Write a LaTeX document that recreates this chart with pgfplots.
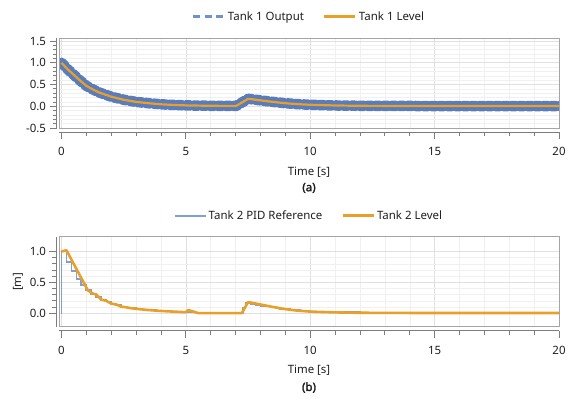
\documentclass[border=0pt]{standalone}
\usepackage{fontspec}
\setmainfont{Noto Sans}
\newfontfamily\capfont{Noto Sans}[FakeBold=2.2]
\usepackage{pgfplots}
\pgfplotsset{compat=1.18}
\definecolor{bandblue}{RGB}{91,124,186}
\definecolor{legblue}{RGB}{112,146,202}
\definecolor{refblue}{RGB}{128,160,212}
\definecolor{lvlorange}{RGB}{232,160,40}
\definecolor{framegray}{RGB}{165,165,165}
\definecolor{axisgray}{RGB}{125,125,125}
\definecolor{txt}{RGB}{30,30,30}
\pgfplotsset{
 myaxis/.style={
  scale only axis, width=500bp, height=90bp, anchor=south west,
  xmin=-0.1, xmax=20,
  axis x line=bottom, axis y line=left,
  axis line style={-, draw=axisgray, line width=0.8bp},
  axis x line shift=4bp, axis y line shift=2.5bp,
  xtick={0,5,...,20}, minor x tick num=4,
  tick align=outside, major tick length=7bp, minor tick length=4bp,
  every tick/.style={draw=axisgray, line width=0.8bp},
  grid=both,
  major grid style={draw=black!12, line width=0.6bp},
  minor grid style={draw=black!6, line width=0.5bp},
  font=\fontsize{11.5}{13}\selectfont\color{txt},
  /pgf/number format/assume math mode=true,
  yticklabel style={/pgf/number format/.cd, fixed, fixed zerofill, precision=1},
  xticklabel style={yshift=-5bp, /pgf/number format/.cd, fixed, precision=0},
  xlabel={Time [s]},
  xlabel style={yshift=-4bp},
  legend style={at={(0.5,1)}, anchor=center, yshift=21bp, draw=none, fill=none,
    font=\fontsize{11.5}{13}\selectfont\color{txt},
    /tikz/every even column/.append style={column sep=17bp}},
  legend columns=2,
  legend image code/.code={\draw[#1] (0bp,0bp) -- (31bp,0bp);},
 }
}
\begin{document}
\begin{tikzpicture}
\path[use as bounding box] (0,0) rectangle (569bp,399bp);
% ---------- (a) ----------
\begin{axis}[myaxis, at={(59bp,271bp)}, ymin=-0.5, ymax=1.57,
  ytick={-0.5,0,0.5,1,1.5}, minor y tick num=4]
\addplot[bandblue, line width=10.5bp, line cap=round, line join=round,
  dash pattern=on 5bp off 3bp, forget plot] table {
0 1.00
0.1 0.94
0.25 0.85
0.5 0.72
0.75 0.59
1.0 0.47
1.25 0.39
1.5 0.32
1.75 0.27
2.0 0.22
2.5 0.15
3.0 0.10
3.5 0.07
4.0 0.045
4.5 0.03
5.0 0.02
6.0 0.01
7.0 0.008
7.03 0.01
7.5 0.17
7.6 0.165
8.0 0.135
8.5 0.10
9.0 0.07
9.5 0.048
10.0 0.034
11 0.018
12 0.01
14 0.006
17 0.005
20.2 0.005
};
\addplot[lvlorange, line width=2.2bp, line join=round, forget plot] table {
0 1.00
0.1 0.94
0.25 0.85
0.5 0.72
0.75 0.59
1.0 0.47
1.25 0.39
1.5 0.32
1.75 0.27
2.0 0.22
2.5 0.15
3.0 0.10
3.5 0.07
4.0 0.045
4.5 0.03
5.0 0.02
6.0 0.01
7.0 0.008
7.03 0.01
7.5 0.17
7.6 0.165
8.0 0.135
8.5 0.10
9.0 0.07
9.5 0.048
10.0 0.034
11 0.018
12 0.01
14 0.006
17 0.005
20.2 0.005
};
\addlegendimage{legblue, line width=3bp, dash pattern=on 7bp off 4.5bp}
\addlegendentry{Tank 1 Output}
\addlegendimage{lvlorange, line width=3bp}
\addlegendentry{Tank 1 Level}
\end{axis}
\draw[framegray, line width=0.8bp] (59bp,271bp) rectangle (559bp,361bp);
\node[font=\capfont\fontsize{11.5}{13}\selectfont, text=txt] at (309bp,211bp) {(a)};
% ---------- (b) ----------
\begin{axis}[myaxis, at={(59bp,72.3bp)}, ymin=-0.22, ymax=1.24,
  ytick={0,0.5,1}, minor y tick num=4, ylabel={[m]}]
\addplot[refblue, line width=1.8bp, const plot mark left] table {
0 0
0.001 1.0
0.2 0.83
0.4 0.69
0.6 0.56
0.8 0.45
1.0 0.37
1.2 0.31
1.4 0.26
1.6 0.21
1.8 0.19
2.0 0.15
2.2 0.13
2.4 0.10
2.6 0.09
2.8 0.08
3.0 0.065
3.2 0.06
3.4 0.05
3.6 0.045
3.8 0.04
4.0 0.035
4.4 0.025
4.8 0.018
5.0 0.012
5.2 0.01
5.6 0.0
7.2 0.0
7.3 0.09
7.4 0.16
7.6 0.15
7.8 0.13
8.0 0.12
8.4 0.09
8.8 0.065
9.2 0.05
9.6 0.035
10 0.024
10.5 0.017
11 0.012
12 0.006
14 0.003
20.2 0.003
};
\addlegendentry{Tank 2 PID Reference}
\addplot[lvlorange, line width=2.6bp, line join=round] table {
0 1.0
0.2 1.02
1.06 0.37
1.25 0.32
1.4 0.30
1.6 0.22
1.8 0.20
2.0 0.155
2.2 0.14
2.4 0.105
2.6 0.095
2.8 0.08
3.0 0.07
3.5 0.05
4.0 0.035
4.5 0.025
5.0 0.015
5.1 0.05
5.5 0.0
7.25 0.0
7.5 0.18
8.0 0.14
8.5 0.10
9.0 0.065
9.5 0.04
10 0.025
11 0.012
12 0.006
14 0.003
20.2 0.003
};
\addlegendentry{Tank 2 Level}
\end{axis}
\draw[framegray, line width=0.8bp] (59bp,72.3bp) rectangle (559bp,163bp);
\node[font=\capfont\fontsize{11.5}{13}\selectfont, text=txt] at (309bp,11.5bp) {(b)};
\end{tikzpicture}
\end{document}
